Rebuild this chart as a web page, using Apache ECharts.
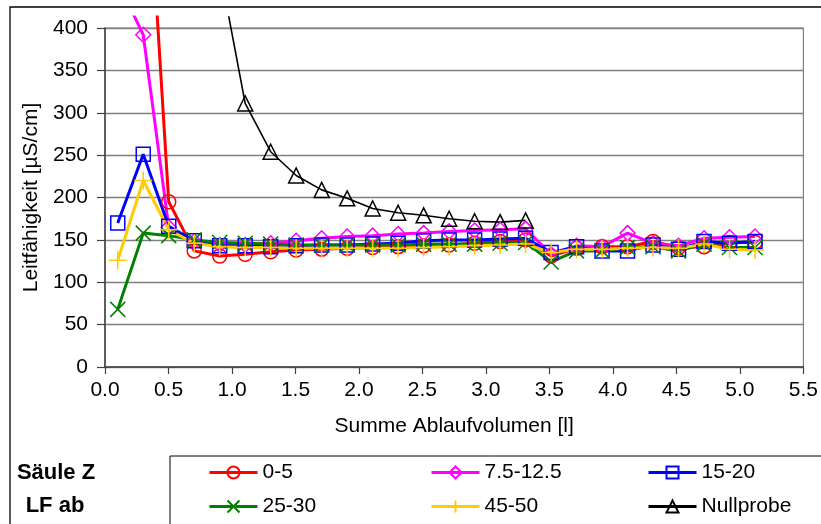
<!DOCTYPE html>
<html><head><meta charset="utf-8">
<script src="https://cdn.jsdelivr.net/npm/echarts@6/dist/echarts.min.js"></script>
<style>html,body{margin:0;padding:0;background:#fff}#c{width:821px;height:524px}</style>
</head><body><div id="c"></div>
<script>
// Summe Ablaufvolumen [l]
const volume = [0.1,0.3,0.5,0.7,0.9,1.1,1.3,1.5,1.7,1.9,2.1,2.3,2.5,2.7,2.9,3.1,3.3,3.5,3.7,3.9,4.1,4.3,4.5,4.7,4.9,5.1];
// Leitfähigkeit [µS/cm]
const s0_5    = [null,680,195,137,131,133,136,138,139,140,141,142,143,144,146,148,150,131,140,142,142,148,141,142,147,147];
const s7_12   = [455,392,165,148,144,144,146,149,152,154,155,157,158,160,161,162,163,133,143,142,158,146,143,152,153,154];
const s15_20  = [170,251,166,149,143,143,142,143,144,144,145,146,149,150,150,151,152,135,142,137,137,144,139,148,146,148];
const s25_30  = [68,158,155,150,147,146,145,144,144,144,144,144,145,145,145,146,147,124,137,137,141,142,137,145,141,141];
const s45_50  = [126,220,162,146,142,141,141,140,140,140,140,140,141,142,143,144,145,135,139,139,140,141,140,145,139,138];
const nullprobe = [null,null,null,null,470,311,254,226,209,199,187,182,179,175,172,171,173,null,null,null,null,null,null,null,null,null];
const seriesNames = ['0-5','7.5-12.5','15-20','25-30','45-50','Nullprobe'];
const xTicks = [0,0.5,1,1.5,2,2.5,3,3.5,4,4.5,5,5.5];
const yTicks = [0,50,100,150,200,250,300,350,400];

const FONT = '"Liberation Sans", Arial, sans-serif';
const X_PATH = 'path://M0,0L10,10M10,0L0,10';
const PLUS_PATH = 'path://M5,0L5,10M0,5L10,5';

function pairs(vals){ return volume.map((v,i)=>[v, vals[i]]).filter(p=>p[1]!==null); }
function mk(name, vals, color, symbol, size, width, bw){
  return {
    name, type:'line', xAxisIndex:1, yAxisIndex:1, data:pairs(vals),
    symbol, symbolSize:size, showAllSymbol:true, clip:true,
    lineStyle:{color, width},
    itemStyle:{color:'none', borderColor:color, borderWidth:bw},
    emphasis:{disabled:true}, animation:false
  };
}

const chart = echarts.init(document.getElementById('c'), null, {renderer:'canvas'});
const axisCol = '#404040';
const legendBase = {
  orient:'vertical', top:462, itemWidth:48, itemHeight:15, itemGap:13, padding:0,
  textStyle:{fontFamily:FONT, fontSize:21, color:'#000', lineHeight:21},
  lineStyle:{width:3},
  selectedMode:false
};
chart.setOption({
  animation:false,
  backgroundColor:'#fff',
  grid:[
    {left:105, right:15, top:28, bottom:157, show:true, borderColor:'#808080', borderWidth:1.2, backgroundColor:'transparent'},
    {left:105, right:15, top:17, bottom:157, show:false}
  ],
  xAxis:[
    {gridIndex:0, type:'value', min:xTicks[0], max:xTicks[xTicks.length-1], interval:0.5,
     axisLine:{show:true, onZero:false, lineStyle:{color:axisCol, width:1.5}},
     axisTick:{show:true, inside:false, length:7, lineStyle:{color:axisCol, width:1.2}},
     axisLabel:{formatter:v=>v.toFixed(1), fontFamily:FONT, fontSize:21, color:'#000', margin:13},
     splitLine:{show:false},
     name:'Summe Ablaufvolumen [l]', nameLocation:'middle', nameGap:49,
     nameTextStyle:{fontFamily:FONT, fontSize:21, color:'#000'}},
    {gridIndex:1, type:'value', min:0, max:5.5, show:false}
  ],
  yAxis:[
    {gridIndex:0, type:'value', min:yTicks[0], max:yTicks[yTicks.length-1], interval:50,
     axisLine:{show:true, onZero:false, lineStyle:{color:axisCol, width:1.5}},
     axisTick:{show:true, inside:false, length:8, lineStyle:{color:axisCol, width:1.2}},
     axisLabel:{fontFamily:FONT, fontSize:21, color:'#000', margin:17},
     splitLine:{show:true, lineStyle:{color:'#808080', width:1.3}},
     name:'Leitfähigkeit [µS/cm]', nameLocation:'middle', nameGap:58, nameRotate:90,
     nameTextStyle:{fontFamily:FONT, fontSize:21, color:'#000'}},
    {gridIndex:1, type:'value', min:0, max:413, show:false}
  ],
  legend:[
    Object.assign({left:208, data:[seriesNames[0], seriesNames[3]]}, legendBase),
    Object.assign({left:430, data:[seriesNames[1], seriesNames[4]]}, legendBase),
    Object.assign({left:647, data:[seriesNames[2], seriesNames[5]]}, legendBase)
  ],
  graphic:[
    {type:'polyline', shape:{points:[[10,524],[10,7],[821,7]]}, style:{stroke:'#000', lineWidth:1.3, fill:null}, silent:true},
    {type:'polyline', shape:{points:[[170,524],[170,456],[821,456]]}, style:{stroke:'#000', lineWidth:1, fill:null}, silent:true},
    {type:'text', x:56, y:473, style:{text:'Säule Z', fontFamily:FONT, fontSize:22, fontWeight:'bold', fill:'#000', align:'center', verticalAlign:'middle'}},
    {type:'text', x:55, y:506, style:{text:'LF ab', fontFamily:FONT, fontSize:22, fontWeight:'bold', fill:'#000', align:'center', verticalAlign:'middle'}}
  ],
  series:[
    mk(seriesNames[0], s0_5, '#FF0000', 'circle', 14, 3, 1.5),
    mk(seriesNames[1], s7_12, '#FF00FF', 'diamond', 15, 3, 1.5),
    mk(seriesNames[2], s15_20, '#0000FF', 'rect', 14, 3, 1.5),
    mk(seriesNames[3], s25_30, '#008000', X_PATH, 15, 3, 1.5),
    mk(seriesNames[4], s45_50, '#FFCC00', PLUS_PATH, 18, 3, 1.5),
    mk(seriesNames[5], nullprobe, '#000000', 'triangle', 15, 1.6, 1.5)
  ]
});
</script></body></html>
